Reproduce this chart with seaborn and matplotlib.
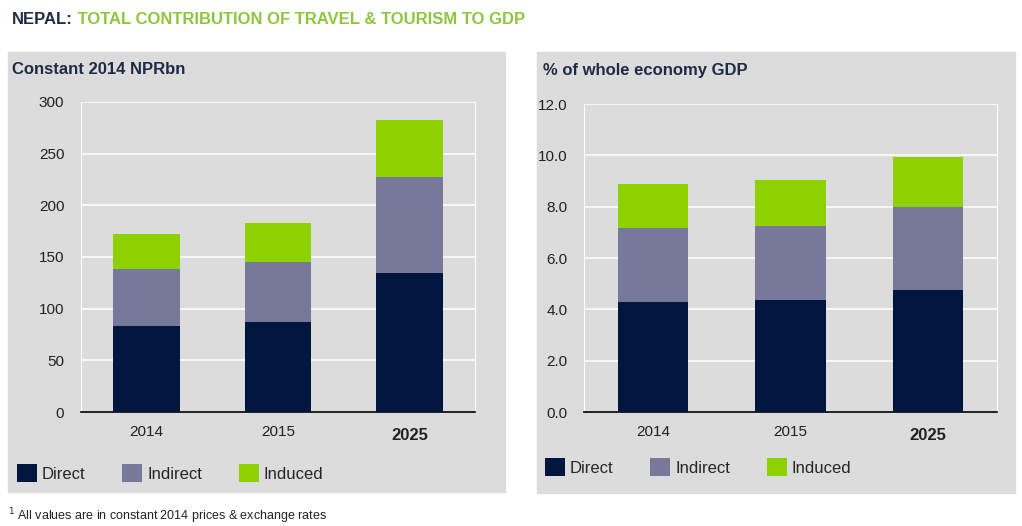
"""Nepal: total contribution of travel & tourism to GDP (stacked bars)."""
import matplotlib
matplotlib.use("Agg")
import matplotlib.pyplot as plt
from matplotlib.patches import Patch, Rectangle
import numpy as np
import pandas as pd
import seaborn as sns

years = ["2014", "2015", "2025"]
components = ["Direct", "Indirect", "Induced"]

npr_direct = [83, 87, 134.5]
npr_indirect = [55, 58.5, 92.5]
npr_induced = [34, 37, 55.5]

gdp_direct = [4.3, 4.35, 4.75]
gdp_indirect = [2.85, 2.9, 3.25]
gdp_induced = [1.75, 1.8, 1.95]

npr_ticks = [0, 50, 100, 150, 200, 250, 300]
gdp_ticks = [0.0, 2.0, 4.0, 6.0, 8.0, 10.0, 12.0]

colors = {"Direct": "#00163F", "Indirect": "#77789A", "Induced": "#8DD100"}
PANEL = "#DCDCDC"
W, H = 1022, 526

sns.set_theme(style="white")
plt.rcParams["font.family"] = ["Liberation Sans", "DejaVu Sans"]


def px_axes(fig, x0, y0, x1, y1):
    return fig.add_axes([x0 / W, 1 - y1 / H, (x1 - x0) / W, (y1 - y0) / H])


def stacked(ax, direct, indirect, induced, ticks, fmt):
    df = pd.DataFrame({"year": years, "Direct": direct,
                       "Indirect": indirect, "Induced": induced})
    df["c1"] = df["Direct"]
    df["c2"] = df["c1"] + df["Indirect"]
    df["c3"] = df["c2"] + df["Induced"]
    ax.set_facecolor(PANEL)
    for col, comp in [("c3", "Induced"), ("c2", "Indirect"), ("c1", "Direct")]:
        sns.barplot(data=df, x="year", y=col, color=colors[comp], width=0.51,
                    saturation=1, linewidth=0, ax=ax, zorder=3)
    ax.set_xlim(-0.5, 2.5)
    ax.set_ylim(ticks[0], ticks[-1])
    ax.set_yticks(ticks)
    ax.set_yticklabels([fmt.format(t) for t in ticks], fontsize=11, color="#222222")
    ax.yaxis.grid(True, color="white", lw=1.1, zorder=0)
    ax.set_axisbelow(True)
    ax.set_xlabel("")
    ax.set_ylabel("")
    ax.tick_params(axis="y", length=0, pad=12)
    ax.set_xticks(range(3))
    ax.set_xticklabels(years)
    ax.set_xticks([-0.5, 0.5, 1.5, 2.5], minor=True)
    ax.tick_params(axis="x", which="major", length=0, pad=9)
    ax.tick_params(axis="x", which="minor", length=5, width=1.2,
                   direction="out", color="black")
    for i, lab in enumerate(ax.get_xticklabels()):
        lab.set_color("#222222")
        if i == 2:
            lab.set_fontsize(12)
            lab.set_fontweight("bold")
            lab.set_y(-0.012)
        else:
            lab.set_fontsize(11)
    ax.spines["bottom"].set_color("black")
    ax.spines["bottom"].set_linewidth(1.2)
    ax.spines["top"].set_visible(False)
    for s in ("left", "right"):
        ax.spines[s].set_color("white")
        ax.spines[s].set_linewidth(0.8)


fig = plt.figure(figsize=(W / 100, H / 100), dpi=100)
fig.patch.set_facecolor("white")

# grey panels behind the axes
fig.patches.append(Rectangle((8 / W, 1 - 492 / H), 497 / W, 440 / H,
                             transform=fig.transFigure, color=PANEL, zorder=-5))
fig.patches.append(Rectangle((537 / W, 1 - 493 / H), 478 / W, 441 / H,
                             transform=fig.transFigure, color=PANEL, zorder=-5))

t = fig.text(12 / W, 1 - 20 / H, "NEPAL:", fontsize=12, fontweight="bold",
             color="#1F2A44", va="center")
fig.add_artist(plt.Annotation(" TOTAL CONTRIBUTION OF TRAVEL & TOURISM TO GDP",
                              xy=(1, 0.5), xycoords=t, va="center",
                              fontsize=12, fontweight="bold", color="#8CC63E"))

fig.text(12 / W, 1 - 70 / H, "Constant 2014 NPRbn", fontsize=12,
         fontweight="bold", color="#1F2A44", va="center")
fig.text(543 / W, 1 - 70 / H, "% of whole economy GDP", fontsize=12,
         fontweight="bold", color="#1F2A44", va="center")

ax1 = px_axes(fig, 81, 102, 475, 412)
stacked(ax1, npr_direct, npr_indirect, npr_induced, npr_ticks, "{:.0f}")
ax2 = px_axes(fig, 584, 104, 997, 412)
stacked(ax2, gdp_direct, gdp_indirect, gdp_induced, gdp_ticks, "{:.1f}")

handles = [Patch(facecolor=colors[c], edgecolor="none", label=c) for c in components]
for x0, y0 in [(17, 473), (545, 467)]:
    fig.legend(handles=handles, loc="center left",
               bbox_to_anchor=(x0 / W, 1 - y0 / H), ncol=3, frameon=False,
               fontsize=12, handlelength=1.2, handleheight=1.2,
               handletextpad=0.3, columnspacing=2.2, borderaxespad=0,
               borderpad=0)

fig.text(8 / W, 1 - 516 / H, "$^1$ All values are in constant 2014 prices & exchange rates",
         fontsize=9, color="#222222", va="center")

fig.savefig("out.png", dpi=100, facecolor="white")
